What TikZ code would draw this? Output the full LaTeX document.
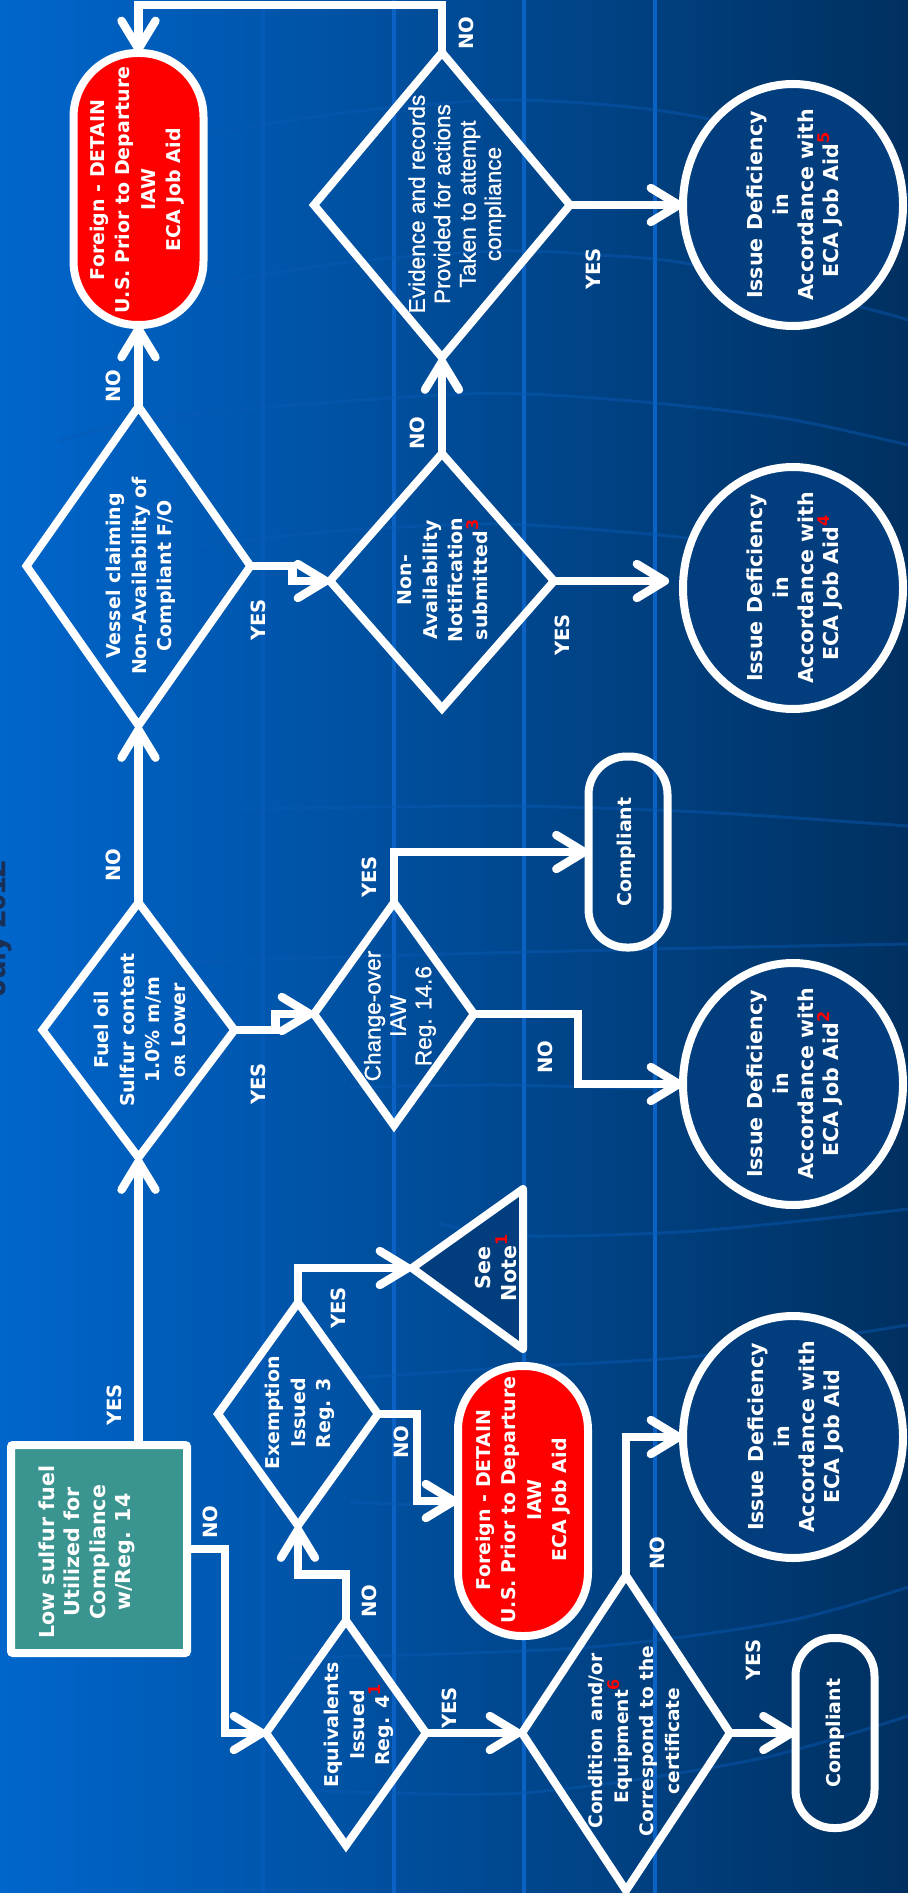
\documentclass[tikz,border=0pt]{standalone}
\usepackage{fontspec}
\setmainfont{DejaVu Sans}
\newfontfamily\libfont[FakeBold=0.8]{Liberation Sans}
\usetikzlibrary{arrows.meta,shapes.geometric,shadows}
\definecolor{bgL}{HTML}{0066CC}
\definecolor{bgM}{HTML}{04509F}
\definecolor{bgR}{HTML}{003060}
\definecolor{stripe}{HTML}{0A62C4}
\definecolor{arcc}{HTML}{0A5AB4}
\definecolor{navy}{HTML}{023D7E}
\definecolor{teal2}{HTML}{3A9490}
\definecolor{julyc}{HTML}{1A2F55}
\newcommand{\rs}[1]{\textcolor{red}{\raisebox{4.5pt}{\fontsize{8}{8}\selectfont\bfseries #1}}}
\tikzset{
  sz/.style 2 args={minimum width=#1*.5pt,minimum height=#2*.5pt},
  shapebase/.style={draw=white,line width=4pt,inner sep=0pt,outer sep=0pt,line join=miter},
  dia/.style={shapebase,shape=diamond},
  circ/.style={shapebase,shape=ellipse,fill=navy,general shadow={shadow xshift=1.5pt,shadow yshift=-1pt,fill=black,opacity=.3}},
  pillred/.style={shapebase,shape=rectangle,fill=red,rounded corners=32pt},
  pillnone/.style={shapebase,shape=rectangle,rounded corners=19pt},
  boxteal/.style={shapebase,shape=rectangle,fill=teal2,rounded corners=1pt},
  txt/.style={rotate=90,align=center,text=white,inner sep=0pt,font=\fontsize{10.3}{12.7}\selectfont\bfseries},
  txtsm/.style={txt,font=\fontsize{9.5}{12.7}\selectfont\bfseries},
  txtcond/.style={txt,font=\fontsize{9.3}{12.7}\selectfont\bfseries},
  txtlib/.style={txt,font=\fontsize{11.3}{12.7}\selectfont\libfont},
  lab/.style={rotate=90,text=white,inner sep=0pt,font=\fontsize{9.8}{11}\selectfont\bfseries},
  arr/.style={draw=white,line width=4.2pt,line join=miter,-{Straight Barb[round,length=14pt,width=17pt]}},
  vstripe/.style={stripe,line width=2pt},
  arcline/.style={arcc,line width=1.5pt,opacity=.45}
}
\begin{document}
\begin{tikzpicture}[x=.5pt,y=-.5pt]
\useasboundingbox (0,0) rectangle (908,1893);
\shade[left color=bgL,middle color=bgM,right color=bgR] (0,0) rectangle (908,1893);
% background stripes and arcs
\draw[vstripe,opacity=.45] (263,0) -- (263,1893);
\draw[vstripe] (394,0) -- (394,1893);
\draw[vstripe] (524,0) -- (524,1893);
\draw[vstripe] (655,0) -- (655,1893);
\draw[arcline] plot[smooth] coordinates {(200,135) (350,112) (498,100) (620,106) (712,120) (800,150) (908,195)};
\draw[arcline] plot[smooth] coordinates {(200,285) (350,262) (498,251) (600,255) (695,265) (865,308) (908,320)};
\draw[arcline] plot[smooth] coordinates {(58,441) (174,416) (463,394) (620,400) (782,418) (908,445)};
\draw[arcline] plot[smooth] coordinates {(200,545) (350,530) (500,524) (637,533) (695,539)};
\draw[arcline] plot[smooth] coordinates {(230,809) (500,806) (700,812) (908,826)};
\draw[arcline] plot[smooth] coordinates {(180,962) (450,954) (700,948) (908,944)};
\draw[arcline] plot[smooth] coordinates {(350,1087) (500,1085) (660,1089)};
\draw[arcline] plot[smooth] coordinates {(440,1224) (521,1236) (680,1232) (810,1220) (908,1209)};
\draw[arcline] plot[smooth] coordinates {(350,1378) (521,1367) (700,1356) (857,1333) (908,1325)};
\draw[arcline] plot[smooth] coordinates {(350,1502) (579,1512)};
\draw[arcline] plot[smooth] coordinates {(290,1658) (579,1648) (787,1621) (908,1587)};
\draw[arcline] plot[smooth] coordinates {(300,1790) (521,1793) (753,1760) (908,1716)};
\node[rotate=90,anchor=base,text=julyc,inner sep=0pt,font=\fontsize{15}{15}\selectfont\bfseries\libfont] (july) at (5,928) {July 2012};

% shapes
\node[pillred,sz={130}{272}] (red1) at (138.5,189) {};
\node[dia,sz={224}{319}] (vessel) at (138.5,566) {};
\node[dia,sz={192}{255}] (fuel) at (138.5,1030) {};
\node[boxteal,sz={176}{208}] (box) at (99,1549) {};
\node[dia,sz={224}{255}] (nonav) at (442,581) {};
\node[dia,sz={256}{305}] (evid) at (442,205) {};
\node[dia,sz={160}{223}] (chg) at (394,1014) {};
\node[dia,sz={160}{223}] (exem) at (298,1414) {};
\node[dia,sz={160}{225}] (equiv) at (346,1733) {};
\node[dia,sz={208}{315}] (cond) at (626,1733) {};
\node[pillred,sz={130}{270}] (red2) at (523,1501) {};
\node[pillnone,sz={79}{191}] (comp1) at (628,852) {};
\node[pillnone,sz={79}{190}] (comp2) at (835,1733) {};
\node[circ,sz={220}{242}] (c5) at (793,205) {};
\node[circ,sz={220}{242}] (c4) at (793,588) {};
\node[circ,sz={220}{242}] (c2) at (793,1084) {};
\node[circ,sz={220}{242}] (c1) at (793,1437) {};
\coordinate (noteA) at (412,1268);
\coordinate (noteB) at (523,1189);
\coordinate (noteC) at (523,1349);
\draw[draw=white,line width=4pt,fill=navy,line join=round] (noteA) -- (noteB) -- (noteC) -- cycle;
\coordinate (topc) at (138.5,5);

% connectors
\draw[arr] (box.north -| red1) -- (fuel.south);
\draw[arr] (fuel.north) -- (vessel.south);
\draw[arr] (vessel.north) -- (red1.south);
\draw[arr] (vessel.east) -- ++(42,0) |- (nonav.west);
\draw[arr] (nonav.north) -- (evid.south);
\draw[arr] (evid.north) |- (topc) -- (red1.north);
\draw[arr] (evid.east) -- (c5.west);
\draw[arr,shorten >=7pt] (nonav.east) -- (nonav.east -| c4.west);
\draw[arr] (fuel.east) -- ++(41,0) |- (chg.west);
\draw[arr] (chg.north) |- (comp1.west);
\draw[arr] (chg.east) -- ++(104,0) |- (c2.west);
\draw[arr] (box.east) -- ++(38,0) |- (equiv.west);
\draw[arr] (equiv.north) -- ++(0,-46) -| (exem.south);
\draw[arr] (exem.north) |- (noteA);
\draw[arr] (exem.east) -- ++(39,0) |- (red2.west);
\draw[arr] (equiv.east) -- (cond.west);
\draw[arr] (cond.east) -- (comp2.west);
\draw[arr] (cond.north) |- (c1.west);

% shape texts
\node[txtsm] (red1-t) at (137,190) {Foreign - DETAIN\\U.S. Prior to Departure\\IAW\\ECA Job Aid};
\node[txtsm] (red2-t) at (523,1500) {Foreign - DETAIN\\U.S. Prior to Departure\\IAW\\ECA Job Aid};
\node[txtsm] (vessel-t) at (141,576) {Vessel claiming\\Non-Availability of\\Compliant F/O};
\node[txtsm] (fuel-t) at (140,1030) {Fuel oil\\Sulfur content\\1.0\% m/m\\{\fontsize{7}{7}\selectfont OR} Lower};
\node[txt] (box-t) at (87,1552) {Low sulfur fuel\\Utilized for\\Compliance\\w/Reg. 14};
\node[txtsm] (nonav-t) at (443,580) {Non-\\Availability\\Notification\\submitted\rs{3}};
\node[txtlib] (evid-t) at (457,204) {Evidence and records\\Provided for actions\\Taken to attempt\\compliance};
\node[txtlib] (chg-t) at (400,1016) {Change-over\\IAW\\Reg. 14.6};
\node[txtsm] (exem-t) at (300,1413) {Exemption\\Issued\\Reg. 3};
\node[txtsm] (equiv-t) at (359,1725) {Equivalents\\Issued\\Reg. 4\rs{1}};
\node[txtcond] (cond-t) at (634,1741) {Condition and/or\\Equipment\rs{6}\\Correspond to the\\certificate};
\node[txtsm] (comp1-t) at (626,852) {Compliant};
\node[txtsm] (comp2-t) at (835,1733) {Compliant};
\node[txt] (c5-t) at (795,205) {Issue Deficiency\\in\\Accordance with\\ECA Job Aid\rs{5}};
\node[txt] (c4-t) at (795,588) {Issue Deficiency\\in\\Accordance with\\ECA Job Aid\rs{4}};
\node[txt] (c2-t) at (795,1084) {Issue Deficiency\\in\\Accordance with\\ECA Job Aid\rs{2}};
\node[txt] (c1-t) at (796,1437) {Issue Deficiency\\in\\Accordance with\\ECA Job Aid};
\node[txt] (note-t) at (496,1268) {See\\Note\rs{1}};

% branch labels
\node[lab] (l1) at (466,33) {NO};
\node[lab] (l2) at (113,386) {NO};
\node[lab] (l3) at (258,620) {YES};
\node[lab] (l4) at (417,433) {NO};
\node[lab] (l5) at (593,269) {YES};
\node[lab] (l6) at (562,635) {YES};
\node[lab] (l7) at (113,865) {NO};
\node[lab] (l8) at (258,1084) {YES};
\node[lab] (l9) at (369,877) {YES};
\node[lab] (l10) at (545,1057) {NO};
\node[lab] (l11) at (338,1308) {YES};
\node[lab] (l12) at (401,1442) {NO};
\node[lab] (l13) at (114,1405) {YES};
\node[lab] (l14) at (210,1522) {NO};
\node[lab] (l15) at (369,1601) {NO};
\node[lab] (l16) at (449,1708) {YES};
\node[lab] (l17) at (753,1660) {YES};
\node[lab] (l18) at (657,1553) {NO};
\end{tikzpicture}
\end{document}
